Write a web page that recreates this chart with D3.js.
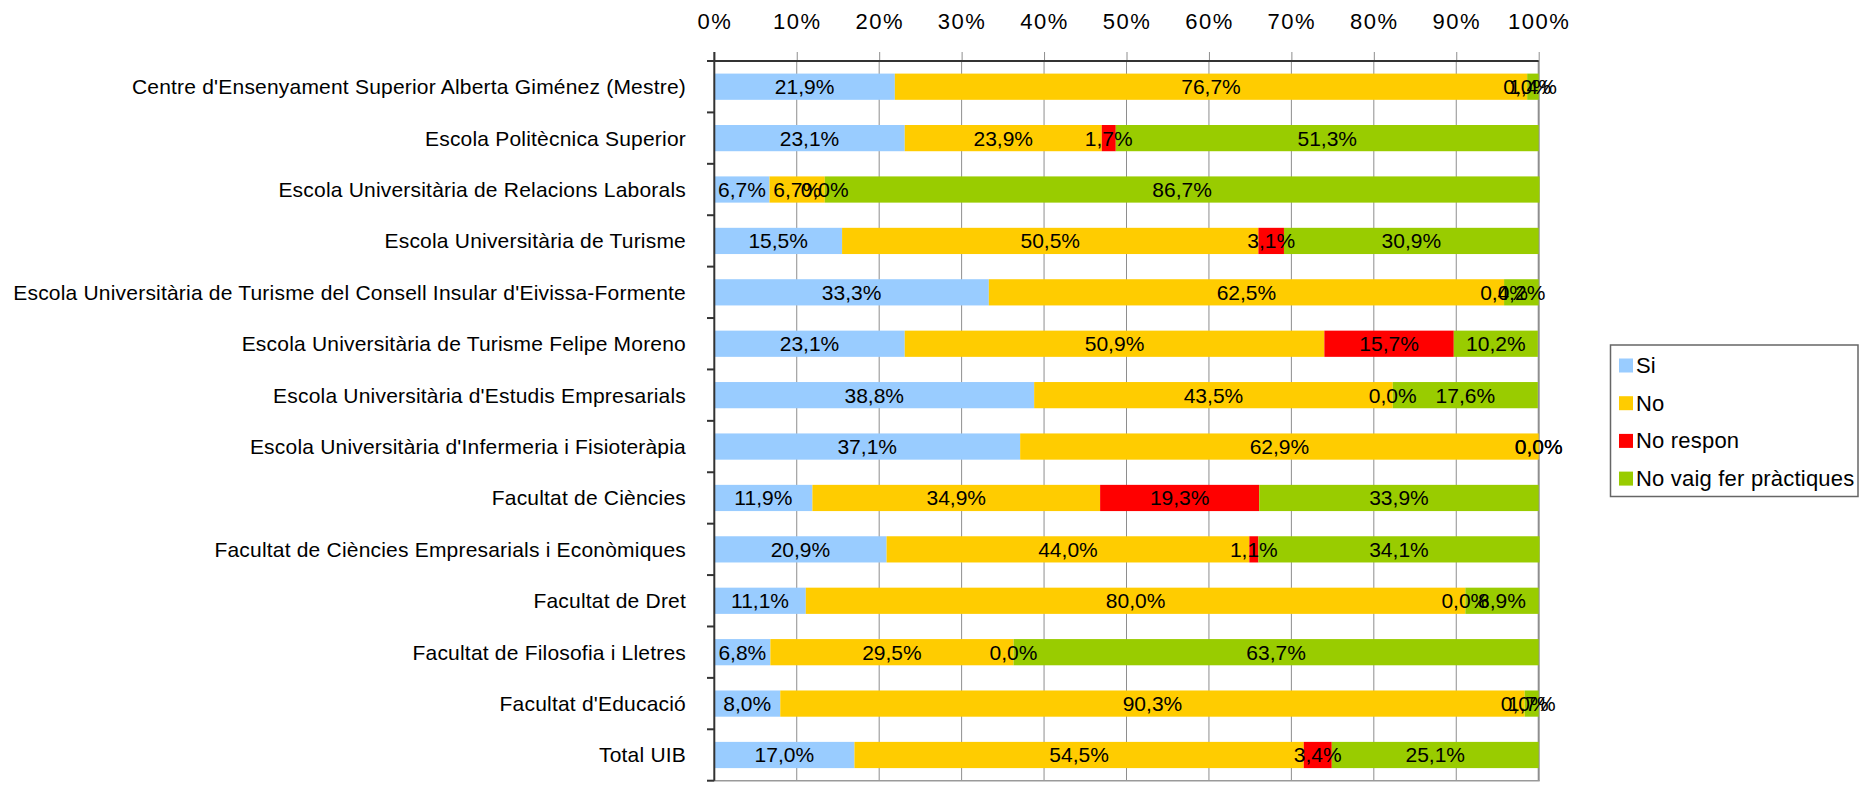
<!DOCTYPE html>
<html>
<head>
<meta charset="utf-8">
<script src="https://cdn.jsdelivr.net/npm/d3@7"></script>
<style>
  html, body { margin: 0; padding: 0; background: #fff; }
  svg { display: block; }
  text { font-family: "Liberation Sans", Arial, sans-serif; fill: #000; }
</style>
</head>
<body>
<svg id="chart" width="1859" height="795"></svg>
<script>
const categories = [
  "Centre d'Ensenyament Superior Alberta Giménez (Mestre)",
  "Escola Politècnica Superior",
  "Escola Universitària de Relacions Laborals",
  "Escola Universitària de Turisme",
  "Escola Universitària de Turisme del Consell Insular d'Eivissa-Formente",
  "Escola Universitària de Turisme Felipe Moreno",
  "Escola Universitària d'Estudis Empresarials",
  "Escola Universitària d'Infermeria i Fisioteràpia",
  "Facultat de Ciències",
  "Facultat de Ciències Empresarials i Econòmiques",
  "Facultat de Dret",
  "Facultat de Filosofia i Lletres",
  "Facultat d'Educació",
  "Total UIB"
];
const seriesNames = ["Si", "No", "No respon", "No vaig fer pràctiques"];
const seriesColors = ["#99CCFF", "#FFCC00", "#FF0000", "#99CC00"];
const si        = [21.9, 23.1, 6.7, 15.5, 33.3, 23.1, 38.8, 37.1, 11.9, 20.9, 11.1, 6.8, 8.0, 17.0];
const no        = [76.7, 23.9, 6.7, 50.5, 62.5, 50.9, 43.5, 62.9, 34.9, 44.0, 80.0, 29.5, 90.3, 54.5];
const noRespon  = [0.0, 1.7, 0.0, 3.1, 0.0, 15.7, 0.0, 0.0, 19.3, 1.1, 0.0, 0.0, 0.0, 3.4];
const noVaig    = [1.4, 51.3, 86.7, 30.9, 4.2, 10.2, 17.6, 0.0, 33.9, 34.1, 8.9, 63.7, 1.7, 25.1];
const tickValues = [0, 10, 20, 30, 40, 50, 60, 70, 80, 90, 100];

(function () {
const seriesValues = [si, no, noRespon, noVaig];
const rows = categories.map((c, i) => {
  const r = { cat: c };
  seriesNames.forEach((s, j) => r[s] = seriesValues[j][i]);
  return r;
});

const svg = d3.select("#chart");
const pLeft = 714.3, pRight = 1538.7, pTop = 61, pBottom = 780.7;

const x = d3.scaleLinear().domain([0, 100]).range([pLeft, pRight]);
const y = d3.scaleBand().domain(categories).range([pTop, pBottom])
  .paddingInner(0.49).paddingOuter(0.245);

const stacked = d3.stack().keys(seriesNames)(rows);

// vertical gridlines
svg.append("g").selectAll("line")
  .data(tickValues.filter(d => d > 0))
  .join("line")
  .attr("x1", d => x(d)).attr("x2", d => x(d))
  .attr("y1", pTop).attr("y2", pBottom)
  .attr("stroke", "#8e8e8e")
  .attr("stroke-width", d => d === 100 ? 2 : 1);

// bottom border
svg.append("line")
  .attr("x1", pLeft).attr("x2", pRight + 1)
  .attr("y1", pBottom).attr("y2", pBottom)
  .attr("stroke", "#9a9a9a").attr("stroke-width", 1.5);

// bars
const fmt = v => d3.format(".1f")(v).replace(".", ",") + "%";
const layers = svg.append("g").selectAll("g")
  .data(stacked)
  .join("g")
  .attr("fill", (d, i) => seriesColors[i]);

layers.selectAll("rect")
  .data(d => d.map(p => ({ p, cat: p.data.cat })))
  .join("rect")
  .attr("x", d => x(d.p[0]))
  .attr("width", d => Math.max(0, x(d.p[1]) - x(d.p[0])))
  .attr("y", d => y(d.cat))
  .attr("height", y.bandwidth());

// data labels
const labels = svg.append("g");
stacked.forEach((layer) => {
  labels.append("g").selectAll("text")
    .data(layer)
    .join("text")
    .attr("x", p => x((p[0] + p[1]) / 2))
    .attr("y", p => y(p.data.cat) + y.bandwidth() / 2)
    .attr("text-anchor", "middle")
    .attr("dominant-baseline", "central")
    .style("font-size", "21px")
    .text(p => fmt(p[1] - p[0]));
});

// top axis
const xAxis = d3.axisTop(x)
  .tickValues(tickValues)
  .tickFormat(d => d + "%")
  .tickSize(9)
  .tickPadding(23);
const ax = svg.append("g").attr("transform", `translate(0,${pTop})`).call(xAxis);
ax.select(".domain").remove();
ax.selectAll(".tick line").attr("stroke", "#8e8e8e");
ax.selectAll(".tick text")
  .attr("font-family", null).attr("font-size", null)
  .style("font-family", "'Liberation Sans', Arial, sans-serif")
  .style("font-size", "22px")
  .style("letter-spacing", "1.5px")
  .attr("fill", "#000");

// top axis line
svg.append("line")
  .attr("x1", 708).attr("x2", pRight)
  .attr("y1", pTop).attr("y2", pTop)
  .attr("stroke", "#333").attr("stroke-width", 2);

// left axis line
svg.append("line")
  .attr("x1", pLeft).attr("x2", pLeft)
  .attr("y1", pTop - 9).attr("y2", pBottom)
  .attr("stroke", "#333").attr("stroke-width", 2);

// left axis ticks at band boundaries
const bounds = d3.range(categories.length + 1).map(i => pTop + i * y.step());
svg.append("g").selectAll("line")
  .data(bounds)
  .join("line")
  .attr("x1", 707).attr("x2", pLeft)
  .attr("y1", d => d).attr("y2", d => d)
  .attr("stroke", "#333").attr("stroke-width", 2);

// category labels
svg.append("g").selectAll("text")
  .data(categories)
  .join("text")
  .attr("x", 686)
  .attr("y", d => y(d) + y.bandwidth() / 2)
  .attr("text-anchor", "end")
  .attr("dominant-baseline", "central")
  .style("font-size", "21px")
  .style("letter-spacing", "0.2px")
  .text(d => d);

// legend
const lg = svg.append("g");
lg.append("rect")
  .attr("x", 1610.5).attr("y", 345)
  .attr("width", 247.5).attr("height", 151.5)
  .attr("fill", "#fff").attr("stroke", "#666").attr("stroke-width", 1.5);
const items = lg.selectAll("g")
  .data(seriesNames)
  .join("g")
  .attr("transform", (d, i) => `translate(1619,${358.5 + i * 37.7})`);
items.append("rect")
  .attr("width", 14).attr("height", 14)
  .attr("fill", (d, i) => seriesColors[i]);
items.append("text")
  .attr("x", 17).attr("y", 7)
  .attr("dominant-baseline", "central")
  .style("font-size", "22px")
  .style("letter-spacing", "0.2px")
  .text(d => d);
})();
</script>
</body>
</html>
